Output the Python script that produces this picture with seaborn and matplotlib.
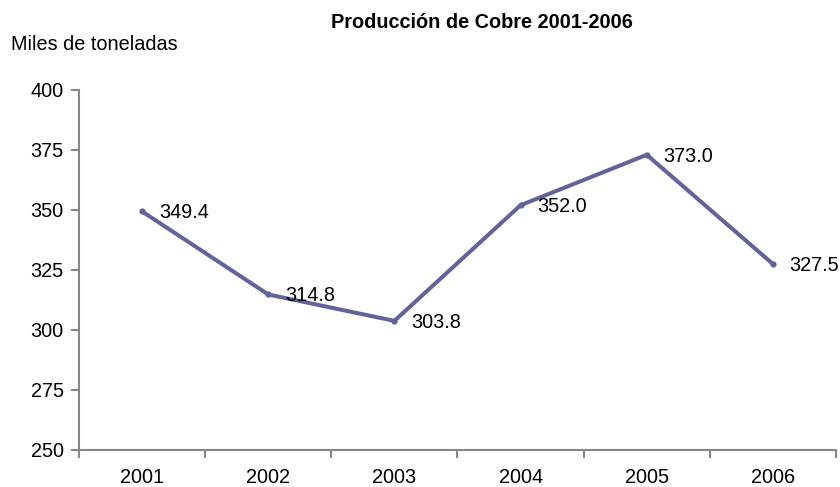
import matplotlib
matplotlib.use("Agg")
import matplotlib.pyplot as plt
import seaborn as sns
import pandas as pd
import numpy as np

years = ["2001", "2002", "2003", "2004", "2005", "2006"]
production = [349.4, 314.8, 303.8, 352.0, 373.0, 327.5]
y_ticks = [250, 275, 300, 325, 350, 375, 400]

sns.set_theme(style="white")
plt.rcParams['font.family'] = ['Liberation Sans', 'DejaVu Sans']
plt.rcParams['text.color'] = 'black'

df = pd.DataFrame({"pos": np.arange(len(years)), "year": years, "value": production})

fig = plt.figure(figsize=(8.4, 4.87), dpi=100)
ax = fig.add_axes([79/840, 1 - 450/487, (836 - 79)/840, (450 - 90)/487])

sns.lineplot(data=df, x="pos", y="value", ax=ax, color="#62629C", linewidth=2.9,
             marker="o", markersize=4.5, markeredgewidth=0)

FS = 14.3
for x, v in zip(df["pos"], production):
    ax.annotate(f"{v:.1f}", (x, v), xytext=(12, -1), textcoords="offset points",
                ha="left", va="center", fontsize=FS, color="black")

ax.set_xlim(-0.5, len(years) - 0.5)
ax.set_ylim(250, 400)
ax.set_yticks(y_ticks)
ax.set_yticklabels([str(t) for t in y_ticks], fontsize=FS)
ax.set_xticks(np.arange(-0.5, len(years), 1.0))
ax.set_xticklabels([])
ax.set_xticks(np.arange(len(years)), minor=True)
ax.set_xticklabels(years, minor=True, fontsize=FS)
ax.tick_params(axis="x", which="major", bottom=True, length=6, width=1.5,
               color="#878787", direction="out")
ax.tick_params(axis="x", which="minor", bottom=True, length=0, pad=13, labelcolor="black")
ax.tick_params(axis="y", left=True, length=6, width=1.5, color="#878787",
               direction="out", pad=5, labelcolor="black")
ax.set_xlabel("")
ax.set_ylabel("")
for s in ["top", "right"]:
    ax.spines[s].set_visible(False)
for s in ["left", "bottom"]:
    ax.spines[s].set_color("#878787")
    ax.spines[s].set_linewidth(1.5)

fig.text(482/840, 1 - 22/487, "Producción de Cobre 2001-2006", ha="center", va="center",
         fontsize=FS, fontweight="bold", color="black")
fig.text(11/840, 1 - 45/487, "Miles de toneladas", ha="left", va="center",
         fontsize=FS, color="black")

fig.savefig("out.png", dpi=100)
